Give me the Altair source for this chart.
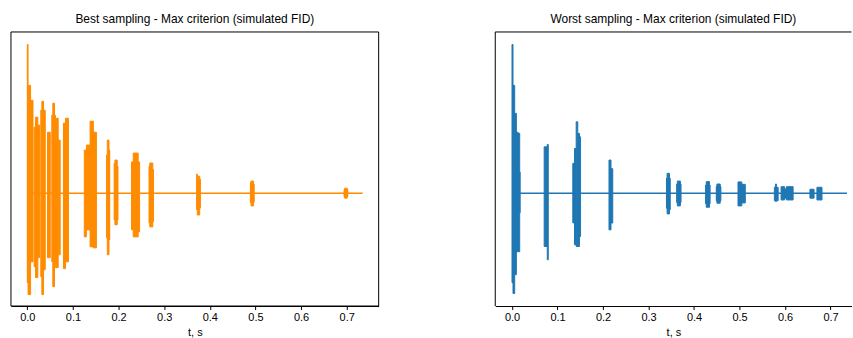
import altair as alt
import pandas as pd

# ---- Best sampling (orange): burst columns ----
best_t0 = [0.0, 0.0017, 0.0072, 0.0150, 0.0181, 0.0231, 0.0296, 0.0319, 0.0356,
           0.0443, 0.0537, 0.0559, 0.0596, 0.0618, 0.0677, 0.0792, 0.0836,
           0.1249, 0.1295, 0.1376, 0.1448, 0.1738, 0.1753, 0.1790,
           0.1904, 0.1920, 0.1971,
           0.2284, 0.2321, 0.2430,
           0.2668, 0.2684, 0.2750,
           0.3710, 0.3725, 0.3778,
           0.4889, 0.4903, 0.4958,
           0.6941, 0.6955, 0.7010]
best_t1 = [0.0017, 0.0072, 0.0125, 0.0181, 0.0231, 0.0269, 0.0319, 0.0356, 0.0393,
           0.0503, 0.0559, 0.0596, 0.0618, 0.0677, 0.0721, 0.0836, 0.0902,
           0.1295, 0.1376, 0.1448, 0.1515, 0.1753, 0.1790, 0.1806,
           0.1920, 0.1971, 0.1987,
           0.2321, 0.2430, 0.2461,
           0.2684, 0.2750, 0.2766,
           0.3725, 0.3778, 0.3793,
           0.4903, 0.4958, 0.4972,
           0.6955, 0.7010, 0.7024]
best_top = [1.000, 0.725, 0.625, 0.444, 0.511, 0.458, 0.558, 0.618, 0.558,
            0.410, 0.524, 0.605, 0.524, 0.504, 0.357, 0.471, 0.504,
            0.290, 0.324, 0.484, 0.410, 0.257, 0.357, 0.290,
            0.200, 0.223, 0.180,
            0.210, 0.270, 0.210,
            0.180, 0.203, 0.160,
            0.129, 0.115, 0.095,
            0.070, 0.082, 0.060,
            0.024, 0.034, 0.024]
best_bot = [-0.601, -0.681, -0.461, -0.494, -0.567, -0.433, -0.561, -0.681, -0.514,
            -0.433, -0.461, -0.628, -0.461, -0.500, -0.413, -0.507, -0.461,
            -0.293, -0.246, -0.360, -0.367, -0.299, -0.413, -0.313,
            -0.180, -0.212, -0.180,
            -0.246, -0.293, -0.259,
            -0.200, -0.226, -0.190,
            -0.110, -0.146, -0.100,
            -0.062, -0.085, -0.060,
            -0.022, -0.033, -0.022]
best_end = 0.735

# ---- Worst sampling (blue) ----
worst_t0 = [0.0, 0.0022, 0.0059, 0.0096, 0.0131, 0.0169,
            0.0707, 0.0775,
            0.1336, 0.1373, 0.1410, 0.1445, 0.1482,
            0.2131, 0.2175,
            0.3394, 0.3408, 0.3460,
            0.3619, 0.3633, 0.3700,
            0.4254, 0.4268, 0.4339,
            0.4489, 0.4503, 0.4575,
            0.4966, 0.5050,
            0.5765, 0.5790, 0.5810, 0.5912, 0.5990, 0.6030, 0.6547, 0.6700]
worst_t1 = [0.0022, 0.0059, 0.0096, 0.0131, 0.0169, 0.0177,
            0.0775, 0.0797,
            0.1373, 0.1410, 0.1445, 0.1482, 0.1506,
            0.2175, 0.2214,
            0.3408, 0.3460, 0.3477,
            0.3633, 0.3700, 0.3714,
            0.4268, 0.4339, 0.4353,
            0.4503, 0.4575, 0.4589,
            0.5050, 0.5126,
            0.5790, 0.5810, 0.5848, 0.5990, 0.6030, 0.6177, 0.6637, 0.6812]
worst_top = [1.000, 0.725, 0.537, 0.410, 0.403, 0.143,
             0.312, 0.328,
             0.201, 0.301, 0.480, 0.402, 0.379,
             0.223, 0.165,
             0.100, 0.134, 0.100,
             0.062, 0.082, 0.062,
             0.055, 0.078, 0.055,
             0.045, 0.062, 0.045,
             0.076, 0.060,
             0.040, 0.062, 0.040, 0.044, 0.029, 0.044, 0.027, 0.040]
worst_bot = [-0.601, -0.674, -0.547, -0.393, -0.393, -0.132,
             -0.358, -0.447,
             -0.199, -0.346, -0.358, -0.358, -0.291,
             -0.246, -0.200,
             -0.100, -0.139, -0.110,
             -0.062, -0.085, -0.062,
             -0.070, -0.094, -0.070,
             -0.050, -0.067, -0.050,
             -0.085, -0.065,
             -0.050, -0.055, -0.050, -0.045, -0.033, -0.045, -0.033, -0.045]
worst_end = 0.736

tick_values = [0.0, 0.1, 0.2, 0.3, 0.4, 0.5, 0.6, 0.7]
y_domain = [-0.758, 1.084]

FONT = "Liberation Sans"
BLACK = "#000000"


def panel(t0, t1, top, bot, end, color, title, x_domain, width, full_frame):
    df = pd.DataFrame({"t0": t0, "t1": t1, "top": top, "bot": bot})
    base_df = pd.DataFrame({"t0": [0.0], "t1": [end], "a": [0.0]})
    one = pd.DataFrame({"k": [0]})

    xs = alt.Scale(domain=x_domain, nice=False, zero=False)
    ys = alt.Scale(domain=y_domain, nice=False, zero=False)
    xaxis = alt.Axis(values=tick_values, format=".1f", title="t, s", grid=False,
                     labelFont=FONT, titleFont=FONT, labelFontSize=11,
                     titleFontSize=11, titleFontWeight="normal",
                     labelColor=BLACK, titleColor=BLACK, tickColor=BLACK,
                     domainColor=BLACK, domainWidth=1, tickWidth=1,
                     tickSize=3.5, labelPadding=2, titlePadding=4)

    baseline = alt.Chart(base_df).mark_rule(color=color, strokeWidth=1.6).encode(
        x=alt.X("t0:Q", scale=xs, axis=xaxis),
        x2="t1:Q",
        y=alt.Y("a:Q", scale=ys, axis=None),
    )
    rects = alt.Chart(df).mark_rect(color=color, stroke=color, strokeWidth=1).encode(
        x=alt.X("t0:Q", scale=xs, axis=xaxis),
        x2="t1:Q",
        y=alt.Y("top:Q", scale=ys, axis=None),
        y2="bot:Q",
    )
    layers = [baseline, rects]
    if full_frame:
        frame = alt.Chart(one).mark_rect(fillOpacity=0, stroke=BLACK, strokeWidth=1).encode(
            x=alt.value(0), x2=alt.value("width"), y=alt.value(0), y2=alt.value("height"))
        layers.append(frame)
    else:
        left = alt.Chart(one).mark_rule(color=BLACK, strokeWidth=1).encode(
            x=alt.value(0), y=alt.value(0), y2=alt.value("height"))
        topr = alt.Chart(one).mark_rule(color=BLACK, strokeWidth=1).encode(
            x=alt.value(0), x2=alt.value("width"), y=alt.value(0))
        layers += [left, topr]
    return alt.layer(*layers).properties(
        width=width, height=275,
        title=alt.TitleParams(title, fontSize=12, font=FONT, fontWeight="normal",
                              color=BLACK, anchor="middle", offset=6),
    )


left = panel(best_t0, best_t1, best_top, best_bot, best_end, "#FF8C00",
             "Best sampling - Max criterion (simulated FID)", [-0.0358, 0.770], 369, True)
right = panel(worst_t0, worst_t1, worst_top, worst_bot, worst_end, "#1F77B4",
              "Worst sampling - Max criterion (simulated FID)", [-0.0368, 0.746], 357.5, False)

chart = alt.hconcat(left, right, spacing=115).properties(
    padding={"left": 10, "right": 0, "top": 11.5, "bottom": 0}
).configure_view(stroke="transparent")

chart.save("out.html", embed_options={"renderer": "svg", "actions": False})
